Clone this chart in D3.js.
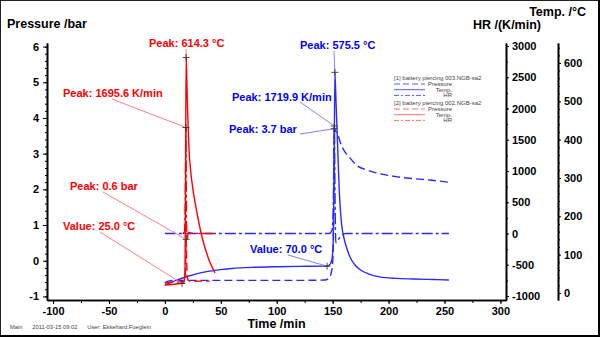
<!DOCTYPE html>
<html>
<head>
<meta charset="utf-8">
<script src="https://cdn.jsdelivr.net/npm/d3@7"></script>
<style>
body { margin: 0; background: #fff; }
svg { display: block; font-family: "Liberation Sans", Arial, sans-serif; }
</style>
</head>
<body>
<svg id="chart" width="600" height="337"></svg>
<script>
// [time /min, value]
const bluePressure = [[0,-0.62],[3,-0.57],[10,-0.55],[60,-0.55],[120,-0.55],[143,-0.54],[147,-0.48],[149,-0.3],[150.3,0.1],[151,1.6],[151.5,3.7],[153,3.62],[155,3.5],[157,3.3],[160,3.1],[165,2.9],[172,2.66],[181,2.54],[195,2.42],[208,2.35],[222,2.3],[237,2.26],[254,2.2]];
const blueTemp = [[0,21],[5,27],[10,33],[20,43],[30,51],[40,57],[50,61],[60,64],[80,67],[100,68.5],[120,69.5],[145,70],[148,76],[149.5,90],[150.5,130],[151.3,300],[152,575.5],[153,500],[154.5,380],[156,260],[158,180],[160,145],[162.5,118],[165.5,94],[170,73],[175,60],[182,50],[192,42],[207,38],[222,36.5],[240,35],[254,34]];
const blueHR = [[0,0],[147,0],[149.5,60],[150.5,400],[151.5,1719.9],[152.2,500],[152.8,-150],[155,-100],[158,-30],[162,0],[254,0]];

const redPressure = [[0,-0.62],[8,-0.6],[16,-0.58],[18,-0.45],[18.5,-0.1],[19,0.6],[19.4,0.1],[20,-0.45],[21,-0.55],[23,-0.58],[30,-0.57],[40,-0.57]];
const redTemp = [[0,21],[5,22],[10,23.5],[15.3,25],[17,27],[18,60],[18.5,300],[19,614.3],[19.5,570],[20,510],[20.6,451],[21.5,380],[23,320],[25.1,270],[28.7,209],[33.2,146],[38.5,94],[44.8,52]];
const redHR = [[16,0],[17.5,20],[18.2,500],[18.8,1695.6],[19.3,300],[19.8,-100],[21,20],[23,10],[30,0],[45,0]];

const timeTicks = [-100, -50, 0, 50, 100, 150, 200, 250, 300];
const pressureTicks = [-1, 0, 1, 2, 3, 4, 5, 6];
const hrTicks = [-1000, -500, 0, 500, 1000, 1500, 2000, 2500, 3000];
const tempTicks = [0, 100, 200, 300, 400, 500, 600];

const legendGroups = ["[1] battery piercing 003.NGB-sa2", "[2] battery piercing 002.NGB-sa2"];
const legendItems = ["Pressure", "Temp.", "HR"];

const annotations = [
    { text: "Peak: 614.3 °C", t: 19, v: 614.3, axis: "T", s: "red" },
    { text: "Peak: 1695.6 K/min", t: 18.8, v: 1695.6, axis: "HR", s: "red" },
    { text: "Peak: 0.6 bar", t: 19, v: 0.6, axis: "P", s: "red" },
    { text: "Value: 25.0 °C", t: 15.3, v: 25.0, axis: "T", s: "red" },
    { text: "Peak: 575.5 °C", t: 152, v: 575.5, axis: "T", s: "blue" },
    { text: "Peak: 1719.9 K/min", t: 151.5, v: 1719.9, axis: "HR", s: "blue" },
    { text: "Peak: 3.7 bar", t: 151.5, v: 3.7, axis: "P", s: "blue" },
    { text: "Value: 70.0 °C", t: 145, v: 70.0, axis: "T", s: "blue" }
];
// label placement: text left x, text centre y, start of leader line
const labelPos = [
    [149, 43, 186, 49], [63, 93, 112, 99], [70, 186, 103, 192], [63, 226, 100, 232],
    [300, 45, 334, 51], [232, 97, 300, 102], [229, 129, 300, 134], [250, 249, 288, 255]
];

const colors = { red: "#ff0000", blue: "#2a2aff" };
const textColors = { red: "#ff0000", blue: "#0000ff" };
const lightColors = { red: "#ff8080", blue: "#8080ff" };

const svg = d3.select("#chart");

svg.append("rect").attr("x", 0.5).attr("y", 0.5).attr("width", 598).attr("height", 335)
    .attr("fill", "#fff").attr("stroke", "#222").attr("stroke-width", 1);
svg.append("path").attr("d", "M0,336 H600 M599,0 V337").attr("stroke", "#000").attr("stroke-width", 2);

const x = d3.scaleLinear().domain([-105.4, 305]).range([47, 506]);
const yP = d3.scaleLinear().domain([-1.1, 6.1]).range([300, 43]);
const yHR = d3.scaleLinear().domain([-1064, 3048]).range([300, 43]);
const yT = d3.scaleLinear().domain([-18.3, 652]).range([300, 43]);
const yScales = { P: yP, HR: yHR, T: yT };

const plain = d => String(d);

function styleAxis(g) {
    g.select(".domain").attr("stroke", "#000").attr("stroke-width", 1.6);
    g.selectAll(".tick line").attr("stroke", "#000").attr("stroke-width", 1);
    g.selectAll(".tick text").attr("fill", "#000").attr("font-size", 11).attr("font-weight", "bold")
        .attr("font-family", "'Liberation Sans', Arial, sans-serif");
}

// minor ticks first, then major axes
svg.append("g").attr("transform", "translate(0,300)")
    .call(d3.axisBottom(x).tickValues(d3.range(-100, 301, 25)).tickSize(3).tickSizeOuter(0).tickFormat(""))
    .call(styleAxis);
svg.append("g").attr("transform", "translate(0,300)")
    .call(d3.axisBottom(x).tickValues(timeTicks).tickSize(4).tickSizeOuter(0).tickPadding(3).tickFormat(plain))
    .call(styleAxis);

svg.append("g").attr("transform", "translate(47,0)")
    .call(d3.axisLeft(yP).tickValues(d3.range(-1, 6.01, 0.2)).tickSize(2).tickSizeOuter(0).tickFormat(""))
    .call(styleAxis);
svg.append("g").attr("transform", "translate(47,0)")
    .call(d3.axisLeft(yP).tickValues(pressureTicks).tickSize(4).tickSizeOuter(0).tickPadding(4).tickFormat(plain))
    .call(styleAxis);

svg.append("g").attr("transform", "translate(506,0)")
    .call(d3.axisRight(yHR).tickValues(d3.range(-1000, 3001, 250)).tickSize(2).tickSizeOuter(0).tickFormat(""))
    .call(styleAxis);
svg.append("g").attr("transform", "translate(506,0)")
    .call(d3.axisRight(yHR).tickValues(hrTicks).tickSize(3).tickSizeOuter(0).tickPadding(3).tickFormat(plain))
    .call(styleAxis);

svg.append("g").attr("transform", "translate(558,0)")
    .call(d3.axisRight(yT).tickValues(d3.range(0, 641, 20)).tickSize(2).tickSizeOuter(0).tickFormat(""))
    .call(styleAxis);
svg.append("g").attr("transform", "translate(558,0)")
    .call(d3.axisRight(yT).tickValues(tempTicks).tickSize(3).tickSizeOuter(0).tickPadding(3).tickFormat(plain))
    .call(styleAxis);

// axis titles
const titles = svg.append("g").attr("font-size", 12.5).attr("font-weight", "bold").attr("fill", "#000");
titles.append("text").attr("x", 7).attr("y", 28).text("Pressure /bar");
titles.append("text").attr("x", 586).attr("y", 15.5).attr("text-anchor", "end").text("Temp. /°C");
titles.append("text").attr("x", 541).attr("y", 28.5).attr("text-anchor", "end").text("HR /(K/min)");
titles.append("text").attr("x", 276.5).attr("y", 327.5).attr("text-anchor", "middle").text("Time /min");

// footer
svg.append("text").attr("x", 10).attr("y", 329).attr("font-size", 5.8).attr("fill", "#444")
    .attr("xml:space", "preserve")
    .text("Main      2011-03-15 09:02      User: Ekkehard.Fueglein");

// curves (blue run first, red run drawn over it)
const dashes = { P: "8,4", T: null, HR: "11,3,3,3" };
const series = [
    { s: "blue", axis: "P", data: bluePressure },
    { s: "blue", axis: "T", data: blueTemp },
    { s: "blue", axis: "HR", data: blueHR },
    { s: "red", axis: "P", data: redPressure },
    { s: "red", axis: "T", data: redTemp },
    { s: "red", axis: "HR", data: redHR }
];

const plot = svg.append("g");
plot.selectAll(".curve")
    .data(series)
    .enter().append("path")
    .attr("class", "curve")
    .attr("fill", "none")
    .attr("stroke", d => colors[d.s])
    .attr("stroke-width", 1.4)
    .attr("stroke-dasharray", d => dashes[d.axis])
    .attr("d", d => d3.line()
        .x(p => x(p[0]))
        .y(p => yScales[d.axis](p[1]))
        .curve(d3.curveMonotoneX)(d.data));

// annotations
const ann = svg.append("g");
annotations.forEach((a, i) => {
    const [lx, ly, sx, sy] = labelPos[i];
    const mx = x(a.t), my = yScales[a.axis](a.v);
    ann.append("line").attr("x1", sx).attr("y1", sy).attr("x2", mx).attr("y2", my)
        .attr("stroke", lightColors[a.s]).attr("stroke-width", 1);
    ann.append("path").attr("d", `M${mx - 3.5},${my} H${mx + 3.5} M${mx},${my - 3.5} V${my + 3.5}`)
        .attr("stroke", "#333").attr("stroke-width", 0.9);
    ann.append("text").attr("x", lx).attr("y", ly + 4)
        .attr("font-size", 11).attr("font-weight", "bold").attr("fill", textColors[a.s])
        .text(a.text);
});

// legend
const legend = svg.append("g").attr("transform", "translate(394,0)");
const legendColor = { red: "#ff7070", blue: "#5a5aff" };
legendGroups.forEach((name, gi) => {
    const s = gi === 0 ? "blue" : "red";
    const top = 78 + gi * 25;
    legend.append("text").attr("x", 0).attr("y", top + 2).attr("font-size", 6).attr("fill", "#444").text(name);
    legendItems.forEach((item, ii) => {
        const yy = top + 6 + ii * 5.7;
        const axisKey = ["P", "T", "HR"][ii];
        legend.append("line").attr("x1", 0).attr("x2", 31).attr("y1", yy).attr("y2", yy)
            .attr("stroke", legendColor[s]).attr("stroke-width", 1)
            .attr("stroke-dasharray", axisKey === "P" ? "6,3" : axisKey === "HR" ? "5,2,2,2" : null);
        legend.append("text").attr("x", 58).attr("y", yy + 2).attr("text-anchor", "end")
            .attr("font-size", 6).attr("fill", "#444").text(item);
    });
});
</script>
</body>
</html>
